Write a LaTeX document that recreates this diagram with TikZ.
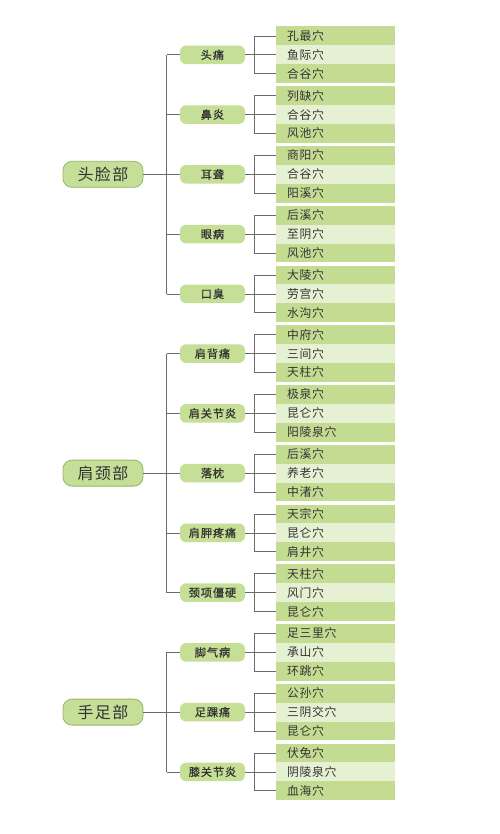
\documentclass[tikz,border=0pt]{standalone}
\usepackage{fontspec}
\setmainfont{Noto Sans CJK SC}
\begin{document}
\begin{tikzpicture}[x=1pt,y=-1pt,
  rootbox/.style={draw=rootborder,line width=0.8pt,fill=rootfill,rounded corners=9pt,minimum width=80pt,minimum height=26pt,inner sep=0pt,font=\fontsize{16}{18}\selectfont\addfontfeatures{LetterSpace=8},text=txt},
  midbox/.style={fill=midfill,rounded corners=6pt,minimum width=65pt,minimum height=18.5pt,inner sep=0pt,font=\fontsize{11.2}{13}\selectfont\addfontfeatures{LetterSpace=8,FakeBold=0.7},text=txt},
  leafbox/.style={minimum width=119pt,minimum height=18.9pt,inner sep=0pt,font=\fontsize{11.8}{13}\selectfont\addfontfeatures{LetterSpace=6},text=txt},
  conn/.style={draw=linec,line width=0.7pt}]
\definecolor{rootfill}{HTML}{C6DF98}
\definecolor{rootborder}{HTML}{96B564}
\definecolor{midfill}{HTML}{C6DF96}
\definecolor{dark}{HTML}{C3DC92}
\definecolor{light}{HTML}{E6F0D2}
\definecolor{txt}{HTML}{333333}
\definecolor{linec}{HTML}{6A6A6A}
\useasboundingbox (0,0) rectangle (499,834);
\fill[white] (0,0) rectangle (499,834);
\foreach \m/\a/\b/\c [count=\i from 0] in {
  头痛/孔最穴/鱼际穴/合谷穴,
  鼻炎/列缺穴/合谷穴/风池穴,
  耳聋/商阳穴/合谷穴/阳溪穴,
  眼病/后溪穴/至阴穴/风池穴,
  口臭/大陵穴/劳宫穴/水沟穴,
  肩背痛/中府穴/三间穴/天柱穴,
  肩关节炎/极泉穴/昆仑穴/阳陵泉穴,
  落枕/后溪穴/养老穴/中渚穴,
  肩胛疼痛/天宗穴/昆仑穴/肩井穴,
  颈项僵硬/天柱穴/风门穴/昆仑穴,
  脚气病/足三里穴/承山穴/环跳穴,
  足踝痛/公孙穴/三阴交穴/昆仑穴,
  膝关节炎/伏兔穴/阴陵泉穴/血海穴}{
  \pgfmathsetmacro\s{26.5+59.75*\i}
  \node[leafbox,fill=dark] (a\i) at (335.5,\s+9.45) {\makebox[97pt][l]{\a}};
  \node[leafbox,fill=light] (b\i) at (335.5,\s+28.35) {\makebox[97pt][l]{\b}};
  \node[leafbox,fill=dark] (c\i) at (335.5,\s+47.25) {\makebox[97pt][l]{\c}};
  \node[midbox] (m\i) at (212.5,\s+28.35) {\m};
  \draw[conn] (m\i.east) -- (b\i.west);
  \draw[conn] (a\i.west) -- ++(-21,0) |- (c\i.west);
}
\coordinate (trunk) at (166.5,0);
\node[rootbox] (r1) at (103,{26.5+59.75*2+28.35}) {头脸部};
\node[rootbox] (r2) at (103,{26.5+59.75*7+28.35}) {肩颈部};
\node[rootbox] (r3) at (103,{26.5+59.75*11+28.35}) {手足部};
\draw[conn] (r1.east) -- (r1.east -| trunk);
\draw[conn] (r2.east) -- (r2.east -| trunk);
\draw[conn] (r3.east) -- (r3.east -| trunk);
\draw[conn] (m0.west -| trunk) -- (m4.west -| trunk);
\draw[conn] (m5.west -| trunk) -- (m9.west -| trunk);
\draw[conn] (m10.west -| trunk) -- (m12.west -| trunk);
\foreach \i in {0,...,12}{
  \draw[conn] (m\i.west -| trunk) -- (m\i.west);
}
\end{tikzpicture}
\end{document}
